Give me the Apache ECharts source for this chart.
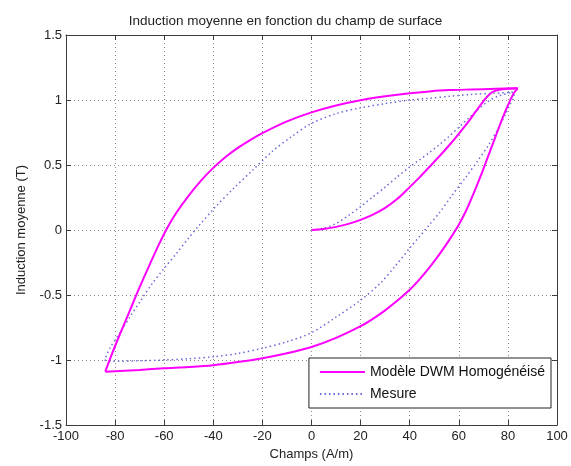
<!DOCTYPE html>
<html>
<head>
<meta charset="utf-8">
<script src="https://cdn.jsdelivr.net/npm/echarts@6/dist/echarts.min.js"></script>
<style>
html,body{margin:0;padding:0;background:#fff;}
#chart{width:571px;height:466px;}
</style>
</head>
<body>
<div id="chart"></div>
<script>
// ---- Data ----
var titleText = 'Induction moyenne en fonction du champ de surface';
var xAxisName = 'Champs (A/m)';
var yAxisName = 'Induction moyenne (T)';
var seriesNames = ['Modèle DWM Homogénéisé', 'Mesure'];

// Model (DWM) : first magnetisation curve, descending branch, ascending branch
var modelInitial = [[0,0],[5,0.007],[10,0.024],[15,0.047],[20,0.078],[25,0.118],[30,0.17],[35,0.24],[40,0.33],[44,0.405],[48,0.485],[52,0.565],[56,0.65],[60,0.74],[64,0.835],[67,0.915],[70,0.99],[72.5,1.045],[75,1.072],[79,1.085],[84,1.09]];
var modelDescending = [[84,1.09],[75,1.086],[65,1.081],[56,1.076],[48,1.066],[40,1.052],[30,1.028],[20,0.998],[10,0.958],[0,0.905],[-10,0.835],[-20,0.745],[-25,0.692],[-30,0.632],[-35,0.562],[-40,0.478],[-45,0.38],[-50,0.265],[-55,0.135],[-58.5,0.025],[-62,-0.105],[-66,-0.27],[-70,-0.44],[-74,-0.62],[-78,-0.8],[-81,-0.94],[-84,-1.09]];
var modelAscending = [[-84,-1.09],[-70,-1.076],[-60,-1.064],[-50,-1.054],[-40,-1.04],[-30,-1.016],[-20,-0.986],[-10,-0.948],[0,-0.9],[10,-0.83],[20,-0.74],[25,-0.683],[30,-0.618],[35,-0.543],[40,-0.46],[44,-0.38],[48,-0.29],[52,-0.19],[56,-0.08],[60,0.04],[63,0.15],[66,0.28],[69,0.42],[72,0.57],[75,0.72],[78,0.87],[80.5,0.98],[82.5,1.055],[84,1.09]];

// Measurement : first magnetisation curve, descending branch, ascending branch
var measInitial = [[0,0],[5,0.015],[10,0.05],[15,0.11],[20,0.18],[25,0.255],[30,0.33],[35,0.41],[40,0.485],[44,0.54],[48,0.595],[52,0.655],[56,0.72],[60,0.79],[64,0.86],[68,0.93],[72,0.99],[76,1.03],[82,1.06]];
var measDescending = [[82,1.06],[74,1.052],[65,1.043],[56,1.028],[48,1.013],[40,1.0],[30,0.972],[20,0.94],[10,0.895],[0,0.82],[-8,0.72],[-16,0.605],[-24,0.46],[-32,0.315],[-39,0.18],[-46,0.03],[-50,-0.06],[-55,-0.18],[-60,-0.295],[-65,-0.415],[-70,-0.555],[-74,-0.67],[-78,-0.79],[-82,-0.905],[-84.3,-1.0]];
var measAscending = [[-84.3,-1.0],[-82,-1.01],[-70,-1.006],[-60,-1.0],[-50,-0.99],[-40,-0.975],[-30,-0.95],[-20,-0.91],[-10,-0.86],[0,-0.79],[10,-0.67],[20,-0.54],[28,-0.41],[34,-0.28],[40,-0.14],[44,-0.05],[48,0.04],[52,0.13],[57,0.26],[63,0.41],[68,0.54],[72,0.65],[76,0.78],[79,0.89],[81,0.97],[82.5,1.03],[82,1.06]];

var xMin = -100, xMax = 100, xStep = 20;
var yMin = -1.5, yMax = 1.5, yStep = 0.5;

// ---- Styles ----
var FONT = '"Liberation Sans", Arial, sans-serif';
var MODEL_COLOR = '#ff00ff';
var MEAS_COLOR = '#6a6ad8';
var FRAME = '#3c3c3c';
var GRID = '#8a8a8a';

function mainX(){
  return {
    type:'value', min:xMin, max:xMax, interval:xStep, position:'bottom',
    name:xAxisName, nameLocation:'middle', nameGap:20,
    nameTextStyle:{fontFamily:FONT, fontSize:13, color:'#222'},
    axisLine:{show:true, onZero:false, lineStyle:{color:FRAME, width:1}},
    axisTick:{show:true, inside:true, length:5, lineStyle:{color:FRAME}},
    axisLabel:{fontFamily:FONT, fontSize:13, color:'#222', margin:5, showMinLabel:true, showMaxLabel:true},
    splitLine:{show:true, lineStyle:{color:GRID, type:[1,3], width:1}}
  };
}
function mainY(){
  return {
    type:'value', min:yMin, max:yMax, interval:yStep, position:'left',
    name:yAxisName, nameLocation:'middle', nameGap:38, nameRotate:90,
    nameTextStyle:{fontFamily:FONT, fontSize:13, color:'#222'},
    axisLine:{show:true, onZero:false, lineStyle:{color:FRAME, width:1}},
    axisTick:{show:true, inside:true, length:5, lineStyle:{color:FRAME}},
    axisLabel:{fontFamily:FONT, fontSize:13, color:'#222', margin:4, showMinLabel:true, showMaxLabel:true},
    splitLine:{show:true, lineStyle:{color:GRID, type:[1,3], width:1}}
  };
}
function mirror(type, pos){
  var o = {
    type:'value', position:pos,
    axisLine:{show:true, onZero:false, lineStyle:{color:FRAME, width:1}},
    axisTick:{show:true, inside:true, length:5, lineStyle:{color:FRAME}},
    axisLabel:{show:false}, splitLine:{show:false}
  };
  if(type==='x'){o.min=xMin;o.max=xMax;o.interval=xStep;}
  else {o.min=yMin;o.max=yMax;o.interval=yStep;}
  return o;
}

function lineSeries(name, data, color, isDotted, width){
  return {
    name:name, type:'line', data:data, xAxisIndex:0, yAxisIndex:0,
    symbol:'none', showSymbol:false, smooth:0.3, animation:false,
    lineStyle:{color:color, width:width, type:isDotted?[1.5,3]:'solid'},
    itemStyle:{color:color}, z: isDotted?3:4
  };
}

var chart = echarts.init(document.getElementById('chart'), null, {renderer:'canvas'});
chart.setOption({
  animation:false,
  backgroundColor:'#ffffff',
  title:{text:titleText, left:'center', top:9, textStyle:{fontFamily:FONT, fontSize:13.5, fontWeight:'normal', color:'#222'}},
  grid:{left:66, right:14, top:35, bottom:41, containLabel:false},
  legend:{
    data:seriesNames, orient:'vertical', right:20, bottom:58,
    backgroundColor:'#ffffff', borderColor:'#222', borderWidth:1,
    padding:[7,6,7,10], itemGap:8, itemWidth:45, itemHeight:12,
    itemStyle:{opacity:0},
    textStyle:{fontFamily:FONT, fontSize:14, color:'#111'}
  },
  xAxis:[mainX(), mirror('x','top')],
  yAxis:[mainY(), mirror('y','right')],
  series:[
    lineSeries(seriesNames[1], measInitial, MEAS_COLOR, true, 1.5),
    lineSeries(seriesNames[1], measDescending, MEAS_COLOR, true, 1.5),
    lineSeries(seriesNames[1], measAscending, MEAS_COLOR, true, 1.5),
    lineSeries(seriesNames[0], modelInitial, MODEL_COLOR, false, 2),
    lineSeries(seriesNames[0], modelDescending, MODEL_COLOR, false, 2),
    lineSeries(seriesNames[0], modelAscending, MODEL_COLOR, false, 2)
  ]
});
</script>
</body>
</html>
